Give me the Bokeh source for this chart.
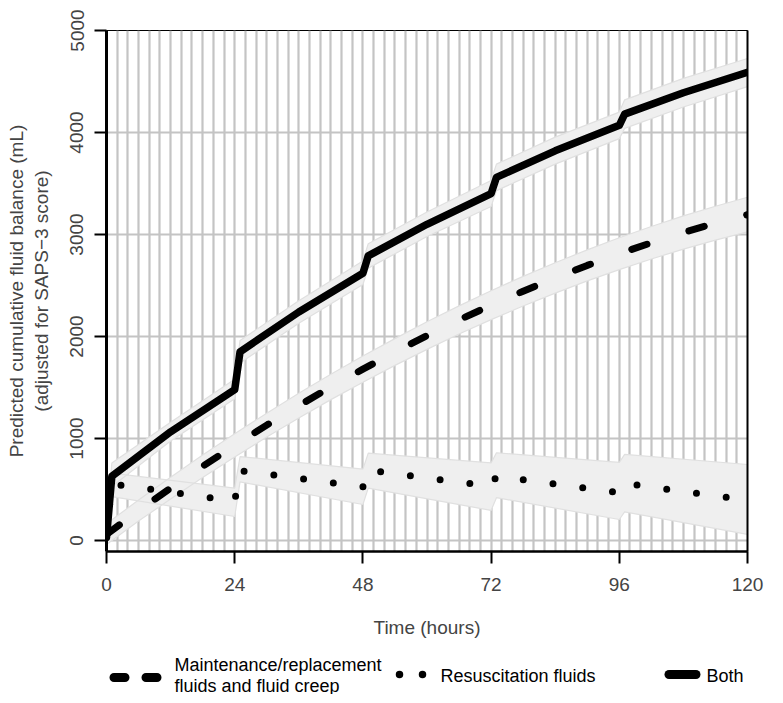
from bokeh.plotting import figure
from bokeh.layouts import column
from bokeh.models import Range1d, FixedTicker, SingleIntervalTicker, LinearAxis
from bokeh.core.properties import value
from bokeh.embed import file_html
from bokeh.resources import INLINE

# ---------------- data ----------------
# "Both" (solid)
both_t = [0, 1, 12, 24, 25, 36, 48, 49, 60, 72, 73, 84, 96, 97, 108, 120]
both_mean = [30, 630, 1065, 1478, 1850, 2240, 2620, 2790, 3100, 3400, 3560, 3820, 4070, 4180, 4390, 4590]
both_lo = [-40, 530, 975, 1390, 1740, 2130, 2510, 2670, 2980, 3275, 3430, 3690, 3940, 4040, 4250, 4450]
both_hi = [110, 760, 1160, 1580, 1960, 2350, 2740, 2910, 3220, 3530, 3690, 3955, 4200, 4320, 4530, 4725]

# Maintenance/replacement fluids and fluid creep (dashed)
maint_t = [0, 6, 12, 18, 24, 30, 36, 42, 48, 54, 60, 66, 72, 78, 84, 90, 96, 102, 108, 114, 120]
maint_mean = [60, 293, 514, 727, 933, 1131, 1322, 1505, 1680, 1848, 2009, 2162, 2307, 2444, 2574,
              2697, 2812, 2919, 3019, 3111, 3195]
maint_lo = [-40, 190, 407, 617, 819, 1014, 1201, 1381, 1552, 1717, 1874, 2024, 2165, 2299, 2425,
            2545, 2656, 2760, 2856, 2945, 3025]
maint_hi = [164, 396, 621, 837, 1047, 1248, 1443, 1629, 1808, 1979, 2144, 2300, 2449, 2589, 2723,
            2849, 2968, 3078, 3182, 3277, 3365]

# Resuscitation fluids (dotted)
resus_t = [0, 1, 24, 25, 48, 49, 72, 73, 96, 97, 120]
resus_mean = [60, 555, 385, 685, 525, 690, 530, 630, 470, 560, 395]
resus_lo = [0, 430, 235, 575, 353, 513, 295, 420, 206, 280, 60]
resus_hi = [130, 660, 513, 823, 700, 856, 760, 860, 765, 845, 745]

x_ticks = [0, 24, 48, 72, 96, 120]
y_ticks = [0, 1000, 2000, 3000, 4000, 5000]

x_title = "Time (hours)"
y_title = "Predicted cumulative fluid balance (mL)\n(adjusted for SAPS\u22123 score)"
legend_lines = [["Maintenance/replacement", "fluids and fluid creep"],
                ["Resuscitation fluids"],
                ["Both"]]

FONT = "Liberation Sans"
BORDER_L, BORDER_R = 106, 20

# ---------------- main plot ----------------
p = figure(width=767, height=644, output_backend="svg", toolbar_location=None,
           x_range=Range1d(0, 120), y_range=Range1d(-108, 5000),
           min_border_left=BORDER_L, min_border_top=30, min_border_right=BORDER_R, min_border_bottom=93)
p.background_fill_color = "white"
p.border_fill_color = "white"
p.outline_line_color = "black"
p.outline_line_width = 1

# grid
p.xgrid.ticker = SingleIntervalTicker(interval=2, num_minor_ticks=0)
p.xgrid.grid_line_color = "#c4c4c4"
p.xgrid.grid_line_width = 2.2
p.ygrid.ticker = FixedTicker(ticks=y_ticks)
p.ygrid.grid_line_color = "#c4c4c4"
p.ygrid.grid_line_width = 2.2

# axes
xa = p.xaxis[0]
xa.ticker = FixedTicker(ticks=x_ticks)
xa.axis_line_width = 2.5
xa.major_tick_line_width = 2
xa.major_tick_out = 12
xa.major_tick_in = 0
xa.minor_tick_line_color = None
xa.major_label_text_font = FONT
xa.major_label_text_font_size = "19px"
xa.major_label_standoff = 14
xa.axis_label = x_title
xa.axis_label_text_font = FONT
xa.axis_label_text_font_size = "19px"
xa.axis_label_text_font_style = "normal"
xa.axis_label_standoff = 23

ya = p.yaxis[0]
ya.ticker = FixedTicker(ticks=y_ticks)
ya.axis_line_width = 3
ya.major_tick_line_width = 2
ya.major_tick_out = 12
ya.major_tick_in = 0
ya.minor_tick_line_color = None
ya.major_label_orientation = "vertical"
ya.major_label_text_font = FONT
ya.major_label_text_font_size = "19px"
ya.major_label_standoff = 11
ya.axis_label = y_title
ya.axis_label_text_font = FONT
ya.axis_label_text_font_size = "19px"
ya.axis_label_text_font_style = "normal"
ya.axis_label_text_line_height = 1.15
ya.axis_label_standoff = 16

ra = LinearAxis(ticker=FixedTicker(ticks=[]), axis_line_width=2,
                major_tick_line_color=None, minor_tick_line_color=None,
                major_label_text_font_size="0px", major_tick_out=0, minor_tick_out=0)
p.add_layout(ra, "right")

# confidence bands
BAND = "#efefef"
EDGE = "#e0e0e0"
p.varea(x=both_t, y1=both_lo, y2=both_hi, fill_color=BAND)
p.varea(x=maint_t, y1=maint_lo, y2=maint_hi, fill_color=BAND)
p.varea(x=resus_t, y1=resus_lo, y2=resus_hi, fill_color=BAND)
for t, lo, hi in [(both_t, both_lo, both_hi), (maint_t, maint_lo, maint_hi), (resus_t, resus_lo, resus_hi)]:
    p.line(t, lo, line_color=EDGE, line_width=1.2)
    p.line(t, hi, line_color=EDGE, line_width=1.2)

# lines
p.line(maint_t, maint_mean, line_color="black", line_width=7, line_dash="16 44", line_cap="round")
p.line(resus_t, resus_mean, line_color="black", line_width=7, line_dash="0 30", line_cap="round")
p.line(both_t, both_mean, line_color="black", line_width=7.5, line_join="round", line_cap="round")

# ---------------- legend strip (page-pixel coordinates inside the aligned frame) ----------------
LW, LH = 767, 50
FX0, FX1 = BORDER_L + 8, LW - BORDER_R + 8   # frame edges in page pixels
lg = figure(width=LW, height=LH, output_backend="svg", toolbar_location=None,
            x_range=Range1d(FX0, FX1), y_range=Range1d(0, LH),
            x_axis_type=None, y_axis_type=None,
            min_border_left=BORDER_L, min_border_right=BORDER_R, min_border_top=0, min_border_bottom=0)
lg.outline_line_color = None
lg.xgrid.visible = False
lg.ygrid.visible = False
lg.background_fill_color = "white"
lg.border_fill_color = "white"

# key samples
lg.line([121.5, 164.5], [17, 17], line_color="black", line_width=9, line_dash="11 21", line_cap="round")
lg.line([407, 432], [20, 20], line_color="black", line_width=7.5, line_dash="0 23", line_cap="round")
lg.line([676.5, 703.5], [20, 20], line_color="black", line_width=9, line_cap="round")

txt = dict(text_font=value(FONT), text_font_size="18px", text_color="black",
           text_baseline="middle", text_align="left")
lg.text(x=[182, 182], y=[30, 9], text=legend_lines[0], **txt)
lg.text(x=[448], y=[19], text=legend_lines[1], **txt)
lg.text(x=[714], y=[19], text=legend_lines[2], **txt)

layout = column(p, lg, spacing=0)
open("out.html", "w").write(file_html(layout, INLINE))
